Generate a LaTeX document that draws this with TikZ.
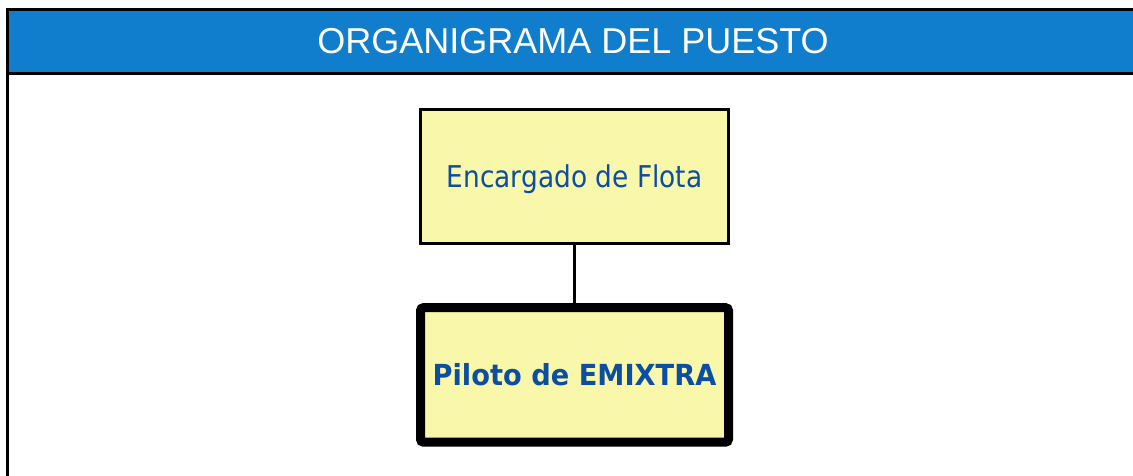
\documentclass[tikz,border=0pt]{standalone}
\usepackage{fontspec}
\usepackage{tikz}
\usetikzlibrary{positioning}
\newfontfamily\headfont{Liberation Sans}
\newfontfamily\boxfont[FakeStretch=0.88]{DejaVu Sans}
\newfontfamily\pilotfont[FakeStretch=0.94]{DejaVu Sans}
\definecolor{headblue}{RGB}{16,126,204}
\definecolor{boxyellow}{RGB}{249,247,170}
\definecolor{textblue}{RGB}{12,78,162}

\begin{document}
\begin{tikzpicture}[
    x=1pt, y=-1pt,
    node distance = 58pt,
    post/.style = {
        rectangle, draw=black, fill=boxyellow,
        minimum width=308pt, minimum height=134.5pt,
        text=textblue, align=center,
        text height=22pt, text depth=0pt
    },
    boss/.style = {post, line width=2.8pt, font=\boxfont\fontsize{30pt}{36pt}\selectfont},
    self/.style = {post, line width=9pt, rounded corners=3pt,
        font=\pilotfont\bfseries\fontsize{29pt}{35pt}\selectfont},
    link/.style = {draw=black, line width=2.6pt},
]
\useasboundingbox (0,0) rectangle (1133,475);

% Header band and frame
\fill[headblue] (7,9) rectangle (1140,73);
\draw[line width=3pt] (1140,9) -- (7,9) -- (7,480);
\draw[line width=3pt] (7,73) -- (1140,73);
\node[text=white, font=\headfont\fontsize{36pt}{42pt}\selectfont] (title) at (573,41)
    {ORGANIGRAMA DEL PUESTO};

% Boxes
\node[boss] (enc) at (574.5,176.5) {Encargado de Flota};
\node[self, below=of enc] (pil) {Piloto de EMIXTRA};

% Connector
\draw[link] (enc.south) -- (pil.north);

\end{tikzpicture}
\end{document}
